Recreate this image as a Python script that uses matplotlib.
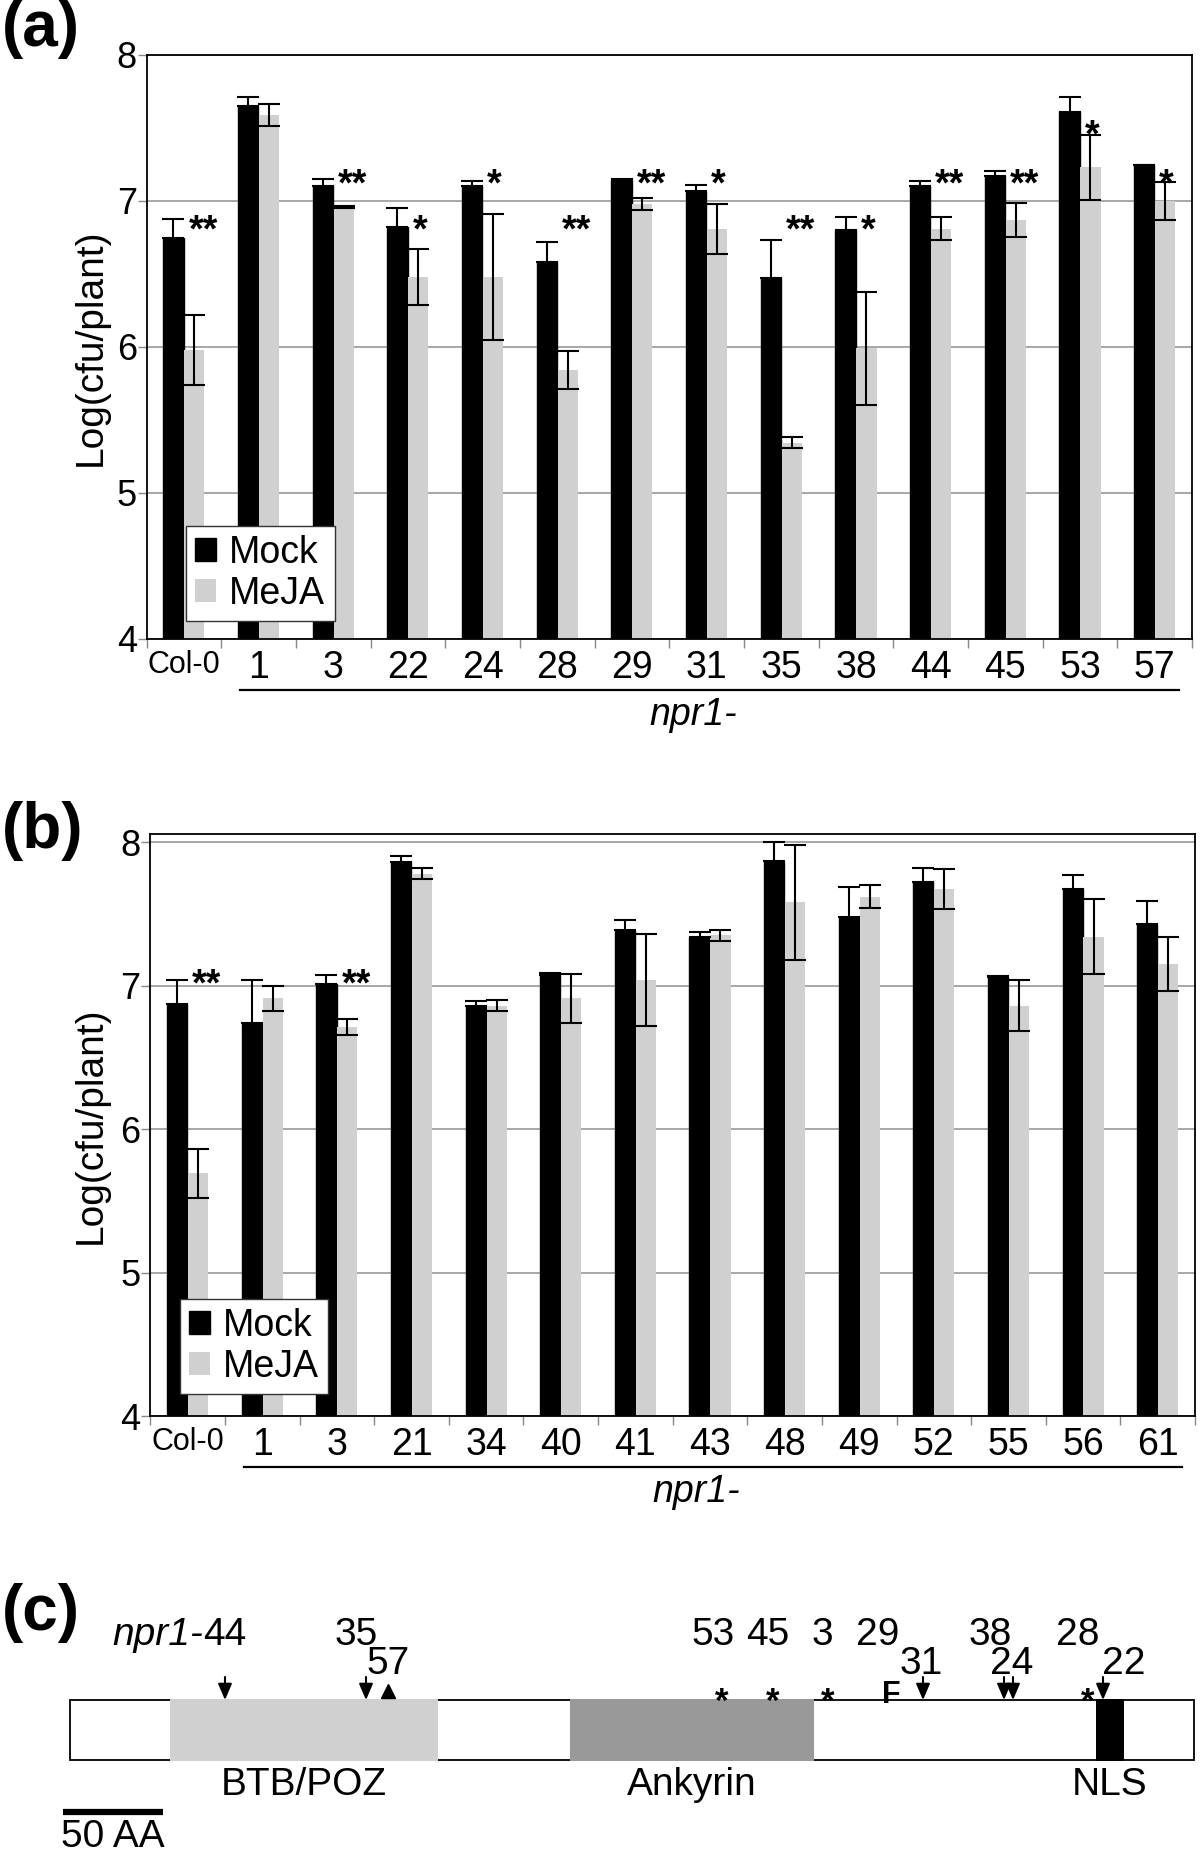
import numpy as np
import matplotlib.pyplot as plt
from matplotlib.patches import Rectangle

plt.rcParams['font.family'] = ['Liberation Sans', 'DejaVu Sans']

# ---- panel (a) data ----
lines_a = ["Col-0", "1", "3", "22", "24", "28", "29", "31", "35", "38", "44", "45", "53", "57"]
mock_a = [6.75, 7.65, 7.10, 6.82, 7.10, 6.58, 7.145, 7.07, 6.475, 6.80, 7.10, 7.17, 7.61, 7.245]
mock_a_err = [0.13, 0.06, 0.05, 0.135, 0.035, 0.14, 0.005, 0.04, 0.26, 0.09, 0.04, 0.035, 0.10, 0.005]
meja_a = [5.98, 7.59, 6.96, 6.48, 6.48, 5.84, 6.98, 6.81, 5.345, 5.99, 6.81, 6.87, 7.23, 7.00]
meja_a_err = [0.24, 0.075, 0.005, 0.19, 0.43, 0.13, 0.04, 0.17, 0.04, 0.385, 0.08, 0.115, 0.22, 0.13]
sig_a = ["**", "", "**", "*", "*", "**", "**", "*", "**", "*", "**", "**", "*", "*"]
sig_a_level = [6.87, 0, 7.19, 6.87, 7.19, 6.87, 7.19, 7.19, 6.87, 6.87, 7.19, 7.19, 7.52, 7.19]

# ---- panel (b) data ----
lines_b = ["Col-0", "1", "3", "21", "34", "40", "41", "43", "48", "49", "52", "55", "56", "61"]
mock_b = [6.87, 6.74, 7.01, 7.86, 6.86, 7.07, 7.39, 7.34, 7.87, 7.48, 7.72, 7.06, 7.67, 7.43]
mock_b_err = [0.17, 0.30, 0.06, 0.045, 0.035, 0.02, 0.065, 0.035, 0.13, 0.21, 0.10, 0.005, 0.10, 0.16]
meja_b = [5.69, 6.91, 6.71, 7.78, 6.86, 6.91, 7.04, 7.35, 7.58, 7.62, 7.67, 6.86, 7.34, 7.15]
meja_b_err = [0.17, 0.09, 0.055, 0.04, 0.04, 0.17, 0.32, 0.04, 0.40, 0.08, 0.14, 0.18, 0.26, 0.19]
sig_b = ["**", "", "**", "", "", "", "", "", "", "", "", "", "", ""]
sig_b_level = [7.08, 0, 7.08, 0, 0, 0, 0, 0, 0, 0, 0, 0, 0, 0]

# ---- panel (c) data (amino acid positions) ----
protein_len = 562
domain_names = ["BTB/POZ", "Ankyrin", "NLS"]
domain_start = [50, 250, 513]
domain_end = [184, 372, 527]
mut_names = ["44", "35", "57", "53", "45", "3", "29", "31", "38", "24", "28", "22"]
mut_pos = [77.5, 148, 159, 326, 351.5, 379, 410.5, 426.5, 467, 471.5, 509, 516.5]
mut_kind = ["arrow", "arrow", "tri", "star", "star", "star", "F", "arrow", "arrow", "arrow", "star", "arrow"]

MOCK_C = 'black'
MEJA_C = '#d0d0d0'


def bar_panel(ax, lines, mock, mock_err, meja, meja_err, sig, sig_level, ytop, leg_anchor):
    n = len(lines)
    x = np.arange(n)
    ax.bar(x - 0.14, mock, 0.27, color=MOCK_C, edgecolor='black', lw=1, zorder=2, label='Mock')
    ax.bar(x + 0.14, meja, 0.27, color=MEJA_C, lw=0, zorder=2, label='MeJA')
    ax.errorbar(x - 0.14, mock, yerr=[np.zeros(n), mock_err], fmt='none', ecolor='black',
                elinewidth=1.5, capsize=8, capthick=1.5, zorder=3)
    ax.errorbar(x + 0.14, meja, yerr=meja_err, fmt='none', ecolor='black',
                elinewidth=1.5, capsize=8, capthick=1.5, zorder=3)

    ax.set_xlim(-0.5, n - 0.5)
    ax.set_ylim(4, ytop)
    ax.set_yticks([4, 5, 6, 7, 8])
    ax.yaxis.grid(True, color='#a0a0a0', lw=1.3)
    ax.set_axisbelow(True)

    # group boundaries get the tick marks, group centres get the labels
    ax.set_xticks(np.arange(n + 1) - 0.5)
    ax.set_xticklabels([])
    ax.set_xticks(x, minor=True)
    ax.set_xticklabels(lines, minor=True)
    ax.tick_params(axis='x', which='major', length=6.5, color='#888888', width=1)
    ax.tick_params(axis='x', which='minor', length=0, pad=8, labelsize=27)
    ax.get_xticklabels(minor=True)[0].set_fontsize(22)
    ax.tick_params(axis='y', length=6.5, color='#888888', width=1, pad=0.5, labelsize=26)
    for sp in ax.spines.values():
        sp.set_linewidth(1.3)

    ax.set_ylabel('Log(cfu/plant)', fontsize=28)

    for i, s in enumerate(sig):
        if s:
            ax.annotate(s, (i + 0.06, sig_level[i]), xytext=(0, -15.7), textcoords='offset points',
                        ha='left', va='baseline', fontsize=27, fontweight='bold')

    leg = ax.legend(loc='lower left', bbox_to_anchor=leg_anchor, borderaxespad=0, fontsize=27,
                    handlelength=0.55, handleheight=0.55, handletextpad=0.35, labelspacing=0.12,
                    borderpad=0.25, fancybox=False, edgecolor='#333333', framealpha=1)
    leg.get_frame().set_linewidth(1)

    trans = ax.get_xaxis_transform()
    ax.plot([0.75, 13.32], [-0.0875, -0.0875], transform=trans, color='black', lw=1.6, clip_on=False)
    ax.text(6.82, -0.130, 'npr1-', transform=trans, style='italic', fontsize=27, ha='center', va='center')


fig = plt.figure(figsize=(12, 18.52), dpi=100)
H = 1852.0

ax_a = fig.add_axes([146.6 / 1200, 1 - 639 / H, (1192 - 146.6) / 1200, (639 - 55) / H])
bar_panel(ax_a, lines_a, mock_a, mock_a_err, meja_a, meja_a_err, sig_a, sig_a_level, 8, (0.0377, 0.031))
ax_a.yaxis.set_label_coords(-0.036, 0.5)

ax_b = fig.add_axes([150.4 / 1200, 1 - 1416 / H, (1195 - 150.4) / 1200, (1416 - 834) / H])
bar_panel(ax_b, lines_b, mock_b, mock_b_err, meja_b, meja_b_err, sig_b, sig_b_level, 8.056, (0.0283, 0.038))
ax_b.yaxis.set_label_coords(-0.0396, 0.5)

# ---- panel (c): protein diagram, x in amino acids, y in pixels from top ----
axc = fig.add_axes([0, 0, 1, 300 / H])
axc.set_xlim(-35, 565)
axc.set_ylim(1852, 1552)
axc.axis('off')

axc.add_patch(Rectangle((0, 1700), protein_len, 60, facecolor='white', edgecolor='black', lw=1.3))
domain_colors = ['#d0d0d0', '#999999', 'black']
for s, e, c, name in zip(domain_start, domain_end, domain_colors, domain_names):
    axc.add_patch(Rectangle((s, 1699), e - s, 62, facecolor=c, edgecolor='none'))
    axc.text((s + e) / 2, 1767, name, ha='center', va='top', fontsize=28)

label_row = [0, 0, 1, 0, 0, 0, 0, 1, 0, 1, 0, 1]
label_dx = [-11, -4.8, 0, -4.5, -2.5, -2.7, -6.5, -1, -7, -0.5, -5, 10.5]
row_base = [1645, 1674]
for name, p, kind, row, dx in zip(mut_names, mut_pos, mut_kind, label_row, label_dx):
    if kind == 'arrow':
        axc.annotate('', xy=(p, 1700), xytext=(p, 1677),
                     arrowprops=dict(arrowstyle='-|>,head_length=0.7,head_width=0.3', color='black',
                                     lw=1.5, mutation_scale=14, shrinkA=0, shrinkB=0))
    elif kind == 'star':
        axc.text(p, 1686, '*', ha='center', va='top', fontsize=25, fontweight='bold')
    elif kind == 'F':
        axc.text(p, 1680, 'F', ha='center', va='top', fontsize=22, fontweight='bold')
    elif kind == 'tri':
        axc.plot(p, 1691, marker='^', ms=10, color='black')
    if name == "44":
        axc.text(p + dx, row_base[row], '44', ha='left', va='baseline', fontsize=28)
        axc.text(p + dx, row_base[row], 'npr1-', ha='right', va='baseline', fontsize=28, style='italic')
    else:
        axc.text(p + dx, row_base[row], name, ha='center', va='baseline', fontsize=28)

axc.plot([-3.5, 46.5], [1812, 1812], lw=4.5, color='black', solid_capstyle='butt')
axc.text(21.5, 1819, '50 AA', ha='center', va='top', fontsize=28)

for lab, yc in zip(['(a)', '(b)', '(c)'], [29, 831, 1613]):
    fig.text(2 / 1200, 1 - yc / H, lab, fontsize=46, fontweight='bold', ha='left', va='center')

fig.savefig('out.png', dpi=100)
